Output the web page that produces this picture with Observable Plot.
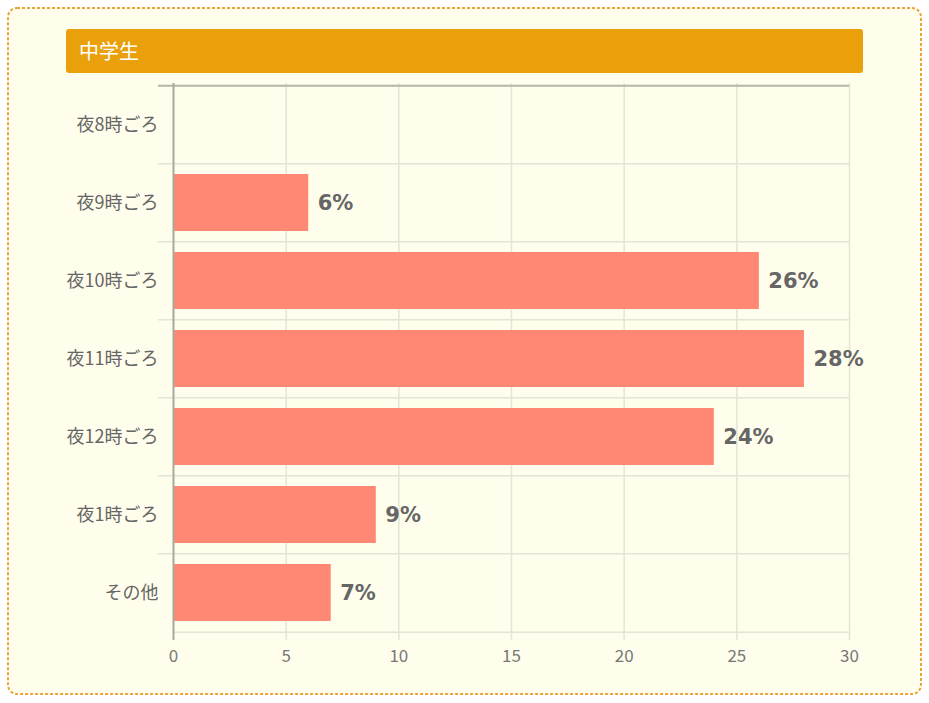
<!DOCTYPE html>
<html>
<head>
<meta charset="utf-8">
<script src="https://cdn.jsdelivr.net/npm/d3@7"></script>
<script src="https://cdn.jsdelivr.net/npm/@observablehq/plot@0.6"></script>
<style>
  html, body { margin: 0; padding: 0; background: #ffffff; width: 929px; height: 703px; overflow: hidden; font-family: "Noto Sans CJK JP", "Noto Sans", sans-serif; }
  #frame { position: absolute; left: 0; top: 0; }
  #title { position: absolute; left: 66px; top: 29px; width: 784px; height: 44px; padding-left: 13px; background: #e9a00b; border-radius: 3px; color: #ffffff; font-size: 20px; line-height: 43px; }
  #chart { position: absolute; left: 0; top: 75px; }
</style>
</head>
<body>
<svg id="frame" width="929" height="703"><rect x="8" y="8" width="913" height="686" rx="9" ry="9" fill="#fffeec" stroke="#eba43a" stroke-width="2" stroke-dasharray="3 2"/></svg>
<div id="title">中学生</div>
<div id="chart"></div>
<script>
const categories = ["夜8時ごろ", "夜9時ごろ", "夜10時ごろ", "夜11時ごろ", "夜12時ごろ", "夜1時ごろ", "その他"];
const values = [0, 6, 26, 28, 24, 9, 7];
const valueLabels = ["", "6%", "26%", "28%", "24%", "9%", "7%"];
const xTicks = [0, 5, 10, 15, 20, 25, 30];

const data = categories.map((c, i) => ({cat: c, v: values[i], label: valueLabels[i]}));

const W = 929, H = 600;
const mTop = 8, mBottom = 41, mLeft = 173, mRight = 80;
const step = (H - mTop - mBottom) / categories.length;

const chart = Plot.plot({
  width: W,
  height: H,
  marginTop: mTop,
  marginBottom: mBottom,
  marginLeft: mLeft,
  marginRight: mRight,
  style: {background: "transparent", fontFamily: "'Noto Sans CJK JP', 'Noto Sans', sans-serif"},
  x: {domain: [0, 30], ticks: xTicks, label: null},
  y: {domain: categories, paddingInner: 0.27, paddingOuter: 0.135, label: null},
  marks: [
    Plot.ruleX(xTicks.slice(1), {stroke: "#e6e4d4", strokeWidth: 1.5, insetBottom: -6}),
    Plot.ruleY(categories, {dy: -step / 2, stroke: "#e6e4d4", strokeWidth: 1.5, insetLeft: -15}),
    Plot.ruleY(categories.slice(-1), {dy: step / 2, stroke: "#e6e4d4", strokeWidth: 1.5}),
    Plot.ruleY(categories.slice(0, 1), {dy: -step / 2, stroke: "#b8b6a8", strokeWidth: 2, insetLeft: -15}),
    Plot.barX(data, {y: "cat", x: "v", fill: "#ff8875"}),
    Plot.ruleX([0], {stroke: "#aaa89a", strokeWidth: 2, insetBottom: -6}),
    Plot.text(data, {y: "cat", x: "v", text: "label", dx: 9, textAnchor: "start", fill: "#666666", fontSize: 21, fontWeight: "bold", fontFamily: "'DejaVu Sans', sans-serif"}),
    Plot.axisY({tickSize: 0, tickPadding: 15, fontSize: 18, fill: "#666666"}),
    Plot.axisX({ticks: xTicks, tickSize: 0, tickPadding: 15, fontSize: 17, fill: "#777777"})
  ]
});
document.getElementById("chart").appendChild(chart);
</script>
</body>
</html>
